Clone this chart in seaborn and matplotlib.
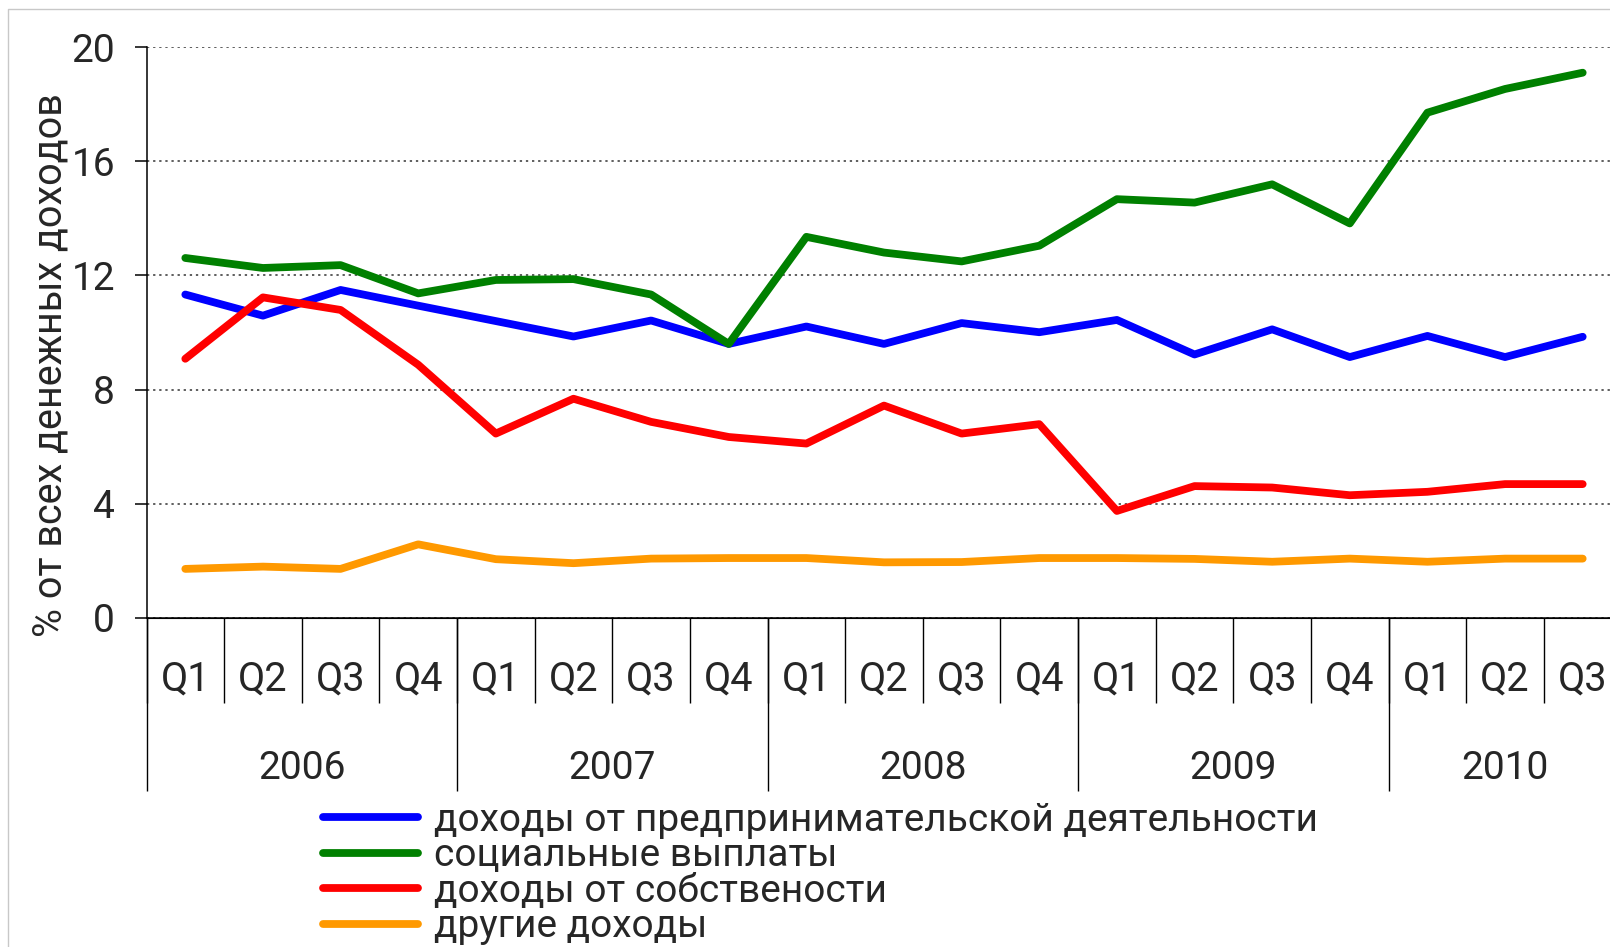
import matplotlib
matplotlib.use("Agg")
import matplotlib.pyplot as plt
import seaborn as sb
import pandas as pd
from matplotlib.lines import Line2D

# quarterly shares, % of all money income
quarters = ["Q1", "Q2", "Q3", "Q4"] * 4 + ["Q1", "Q2", "Q3"]
years = ["2006", "2007", "2008", "2009", "2010"]
series_names = ["доходы от предпринимательской деятельности",
                "социальные выплаты",
                "доходы от собствености",
                "другие доходы"]
business = [11.33, 10.59, 11.49, 10.94, 10.40, 9.86, 10.42, 9.60, 10.21, 9.60,
            10.33, 10.01, 10.44, 9.23, 10.11, 9.14, 9.88, 9.14, 9.85]
social = [12.61, 12.26, 12.36, 11.37, 11.84, 11.87, 11.33, 9.60, 13.35, 12.80,
          12.49, 13.04, 14.67, 14.55, 15.19, 13.82, 17.70, 18.53, 19.10]
property_inc = [9.08, 11.23, 10.79, 8.87, 6.46, 7.68, 6.87, 6.34, 6.11, 7.44,
                6.46, 6.79, 3.75, 4.62, 4.57, 4.30, 4.42, 4.69, 4.69]
other = [1.72, 1.80, 1.72, 2.58, 2.06, 1.92, 2.08, 2.10, 2.10, 1.95,
         1.96, 2.10, 2.10, 2.07, 1.97, 2.08, 1.97, 2.08, 2.08]
colors = ["#0000FF", "#008000", "#FF0000", "#FF9900"]

rows = []
for name, vals in zip(series_names, [business, social, property_inc, other]):
    for i, v in enumerate(vals):
        rows.append({"pos": i, "value": v, "series": name})
df = pd.DataFrame(rows)

sb.set_style("white")
plt.rcParams["font.family"] = ["Roboto", "DejaVu Sans"]

W, H = 1610, 947
fig = plt.figure(figsize=(W / 100, H / 100), dpi=100)
ax = fig.add_axes([146.5 / W, 1 - 618 / H, 1475 / W, 571 / H])

sb.lineplot(data=df, x="pos", y="value", hue="series", hue_order=series_names,
            palette=colors, linewidth=5.6, solid_capstyle="round", ax=ax)

ax.set_xlim(-0.5, 18.5)
ax.set_ylim(0, 20)
ax.set_xlabel("")
ax.set_ylabel("")

# y axis
ax.set_yticks(range(0, 21, 4))
ax.tick_params(axis="y", left=True, length=8.6, width=1.1, pad=14, labelsize=28,
               direction="out", color="black")
ax.grid(axis="y", color="#333333", linestyle=(0, (1.5, 2.5)), linewidth=1.1)
ax.grid(axis="x", visible=False)
for s in ["top", "right"]:
    ax.spines[s].set_visible(False)
for s in ["left", "bottom"]:
    ax.spines[s].set_color("black")
    ax.spines[s].set_linewidth(1.1)

# quarter labels + separators
n = len(quarters)
ax.set_xticks(range(n), labels=quarters)
ax.set_xticks([i - 0.5 for i in range(n + 1)], minor=True)
ax.tick_params(axis="x", which="major", length=0, pad=30, labelsize=28.5)
ax.tick_params(axis="x", which="minor", bottom=True, length=61, width=1,
               color="black", direction="out")

# year labels + separators
sec = ax.secondary_xaxis("bottom")
sec.set_xticks([-0.5, 3.5, 7.5, 11.5, 15.5, 18.5], labels=[""] * 6)
sec.set_xticks([1.5, 5.5, 9.5, 13.5, 17], labels=years, minor=True)
sec.tick_params(axis="x", which="major", length=124.6, width=1, color="black")
sec.tick_params(axis="x", which="minor", length=0, pad=95, labelsize=28)
sec.spines["bottom"].set_color("black")

fig.text(50 / W, 1 - 365 / H, "% от всех денежных доходов", rotation=90,
         ha="center", va="center", fontsize=28.5)

sb.move_legend(ax, "upper left", bbox_to_anchor=(323 / W, 1 - 802 / H),
               bbox_transform=fig.transFigure, frameon=False, title=None,
               fontsize=28, handlelength=2.45, handletextpad=0.4,
               labelspacing=-0.04, borderpad=0, borderaxespad=0)
for h in ax.get_legend().legend_handles:
    h.set_linewidth(5.6)
    h.set_solid_capstyle("round")

# thin grey frame of the original picture (top and left edge)
fig.add_artist(Line2D([8 / W, 8 / W, 1.0], [0, 1 - 9 / H, 1 - 9 / H],
                      transform=fig.transFigure, color="#c8c8c8", lw=1))

fig.savefig("out.png", dpi=100)
